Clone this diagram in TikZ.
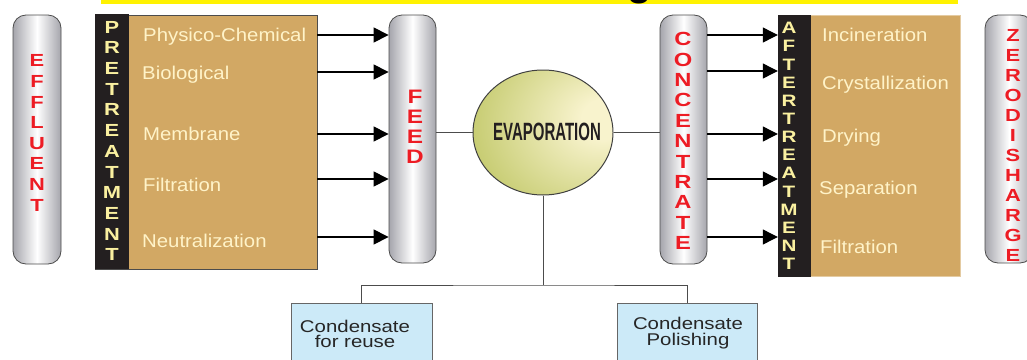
\documentclass[tikz,border=0pt]{standalone}
\usepackage{fontspec}
\setmainfont{Liberation Sans}
\newfontfamily\labfont{Liberation Sans}[FakeStretch=1.1]
\newfontfamily\letfont{Liberation Sans}[FakeStretch=1.25]
\newfontfamily\condfont{Liberation Sans}[FakeStretch=1.2]
\newfontfamily\evfont{Liberation Sans}[FakeStretch=0.6]
\usetikzlibrary{shapes.geometric,arrows.meta,calc}
\definecolor{tanbox}{RGB}{210,168,100}
\definecolor{cream}{RGB}{255,243,200}
\definecolor{pyel}{RGB}{250,240,160}
\definecolor{redL}{RGB}{237,28,36}
\definecolor{stripk}{RGB}{35,31,32}
\definecolor{cylg}{RGB}{165,165,172}
\definecolor{cbox}{RGB}{204,234,248}
\definecolor{ttlyel}{RGB}{255,242,0}
\definecolor{evhi}{RGB}{248,243,205}
\definecolor{evmid}{RGB}{200,205,116}
\definecolor{evedge}{RGB}{172,166,88}
\pgfdeclareradialshading{evapshade}{\pgfpoint{24bp}{6bp}}{color(0bp)=(evhi); color(8bp)=(evhi); color(38bp)=(evmid); color(62bp)=(evmid!80!evedge); color(85bp)=(evedge)}
\tikzset{
  cyl/.style={draw=black!70, line width=0.8pt, rounded corners=13pt, left color=cylg, right color=cylg, middle color=white, minimum width=48pt, inner sep=0pt},
  vlet/.style 2 args={font=\letfont\bfseries\fontsize{#1}{#2}\selectfont, align=center, inner sep=0pt},
  redlet/.style={text=redL},
  striplet/.style={text=pyel},
  tanrect/.style={fill=tanbox, inner sep=0pt},
  strip/.style={fill=stripk, inner sep=0pt, minimum width=34pt},
  lab/.style={anchor=west, inner sep=0pt, text height=13.3pt, text depth=0pt, text=cream, font=\labfont\fontsize{18.5}{20}\selectfont},
  arr/.style={-{Triangle[length=15pt,width=15pt]}, line width=1.1pt, black},
  conn/.style={draw=black!70, line width=0.9pt},
  cbx/.style={draw=black!60, line width=0.9pt, fill=cbox, inner sep=0pt, minimum height=70pt},
  ctext/.style={inner sep=0pt, align=center, font=\condfont\fontsize{17}{15.5}\selectfont, text=black!85}
}
\begin{document}
\begin{tikzpicture}[x=1pt,y=-1pt]
\clip (0,0) rectangle (1027,359);
\useasboundingbox (0,0) rectangle (1027,359);
% title bar
\node[fill=ttlyel, minimum width=857pt, minimum height=8pt, inner sep=0pt] (title) at (529.5,0) {};
\node[anchor=base, inner sep=0pt] (tg) at (640,-4.6) {\fontsize{40}{40}\selectfont\bfseries g};
% cylinders
\node[cyl, minimum height=249pt] (eff) at (37,139.5) {};
\node[vlet={17.5}{20.6}, redlet] (effT) at (37,133) {E\\F\\F\\L\\U\\E\\N\\T};
\node[cyl, minimum width=47pt, minimum height=248pt] (feed) at (412.5,139) {};
\node[vlet={19.5}{20}, redlet] (feedT) at (415,127) {F\\E\\E\\D};
\node[cyl, minimum width=47pt, minimum height=249pt] (conc) at (683.5,139.5) {};
\node[vlet={19}{20.4}, redlet] (concT) at (683,141) {C\\O\\N\\C\\E\\N\\T\\R\\A\\T\\E};
\node[cyl, minimum height=248pt] (zero) at (1009,139) {};
\node[vlet={17.5}{20}, redlet] (zeroT) at (1013,145) {Z\\E\\R\\O\\D\\I\\S\\H\\A\\R\\G\\E};
% pretreatment
\node[tanrect, draw=black!70, line width=0.8pt, minimum width=222pt, minimum height=254pt] (pre) at (206,142) {};
\node[strip, minimum height=255pt] (preS) at (112,141.5) {};
\node[vlet={17.5}{20.7}, striplet] (preT) at (112,141) {P\\R\\E\\T\\R\\E\\A\\T\\M\\E\\N\\T};
\node[lab] (p1) at (143,35) {Physico-Chemical};
\node[lab] (p2) at (142,73) {Biological};
\node[lab] (p3) at (143,134) {Membrane};
\node[lab] (p4) at (143,185) {Filtration};
\node[lab] (p5) at (142,241) {Neutralization};
% aftertreatment
\node[tanrect, draw=tanbox!60!white, line width=0.8pt, minimum width=182pt, minimum height=261pt] (aft) at (869,145.5) {};
\node[strip, minimum width=33pt, minimum height=262pt] (aftS) at (794.5,145.5) {};
\node[vlet={16.5}{18.15}, striplet] (aftT) at (789,146) {A\\F\\T\\E\\R\\T\\R\\E\\A\\T\\M\\E\\N\\T};
\node[lab] (a1) at (822,35) {Incineration};
\node[lab] (a2) at (822,83) {Crystallization};
\node[lab] (a3) at (822,136) {Drying};
\node[lab] (a4) at (819,188) {Separation};
\node[lab] (a5) at (820,247) {Filtration};
% arrows pre -> feed
\foreach \yy in {35,72,134,179,237}{
  \draw[arr] (pre.east |- 0,\yy) -- (feed.west |- 0,\yy);
}
% arrows conc -> aft
\foreach \yy in {35,71,134,179,237}{
  \draw[arr] (conc.east |- 0,\yy) -- (aftS.west |- 0,\yy);
}
% evaporation
\node[ellipse, draw=black!75, line width=1pt, shading=evapshade, minimum width=140pt, minimum height=125pt, inner sep=0pt] (evap) at (543,132.5) {};
\node[inner sep=0pt, text=stripk, font=\evfont\bfseries\fontsize{25}{25}\selectfont] (evapT) at (547,132) {EVAPORATION};
\draw[conn] (feed.east |- evap.center) -- (evap.west);
\draw[conn] (evap.east) -- (conc.west |- evap.center);
% condensate boxes
\node[cbx, minimum width=141pt] (c1) at (361.5,338) {};
\node[cbx, minimum width=140pt] (c2) at (687,338) {};
\node[ctext] (c1T) at (355,334) {Condensate\\for reuse};
\node[ctext] (c2T) at (688,333) {Condensate\\Polishing};
\coordinate (junc) at (evap.south |- 0,285);
\draw[conn] (evap.south) -- (junc);
\draw[conn] (c1.north) |- (junc) -| (c2.north);
\end{tikzpicture}
\end{document}
